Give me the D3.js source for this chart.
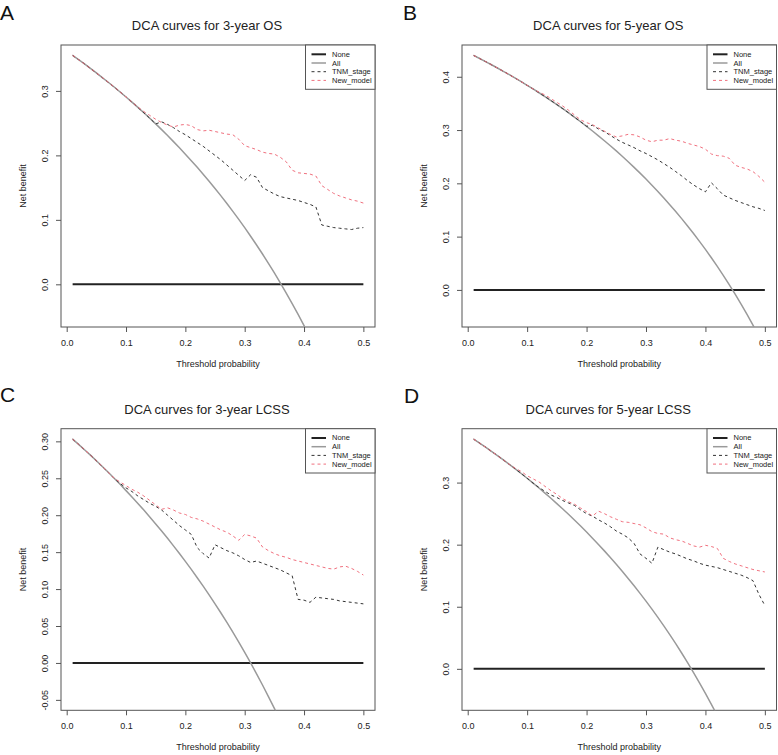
<!DOCTYPE html>
<html>
<head>
<meta charset="utf-8">
<script src="https://cdn.jsdelivr.net/npm/d3@7"></script>
<style>
  html, body { margin: 0; padding: 0; background: #fff; }
  svg { display: block; font-family: "Liberation Sans", Arial, sans-serif; }
</style>
</head>
<body>
<svg id="chart" width="778" height="755"></svg>
<script>
// ---------- DATA ----------
const thresholds = [0.01,0.02,0.03,0.04,0.05,0.06,0.07,0.08,0.09,0.10,
  0.11,0.12,0.13,0.14,0.15,0.16,0.17,0.18,0.19,0.20,
  0.21,0.22,0.23,0.24,0.25,0.26,0.27,0.28,0.29,0.30,
  0.31,0.32,0.33,0.34,0.35,0.36,0.37,0.38,0.39,0.40,
  0.41,0.42,0.43,0.44,0.45,0.46,0.47,0.48,0.49,0.50];

const seriesNames = ["None", "All", "TNM_stage", "New_model"];
const xTickValues = [0, 0.1, 0.2, 0.3, 0.4, 0.5];
const xTickLabels = ["0.0", "0.1", "0.2", "0.3", "0.4", "0.5"];

// Panel A: 3-year OS
const allA = [0.3551,0.3485,0.3418,0.3349,0.3279,0.3207,0.3134,0.3060,0.2983,0.2906,0.2826,0.2744,0.2661,0.2576,0.2488,0.2399,0.2307,0.2213,0.2117,0.2019,0.1918,0.1814,0.1708,0.1599,0.1487,0.1372,0.1253,0.1132,0.1007,0.0879,0.0746,0.0610,0.0470,0.0326,0.0177,0.0023,-0.0135,-0.0298,-0.0467,-0.0642,-0.0822,-0.1009,-0.1202,-0.1402,-0.1609,-0.1824,-0.2047,-0.2279,-0.2520,-0.2770];
const tnmA = [0.3551,0.3485,0.3418,0.3349,0.3279,0.3207,0.3134,0.3060,0.2983,0.2906,0.2826,0.2744,0.2661,0.2576,0.2488,0.252,0.248,0.243,0.237,0.232,0.226,0.220,0.214,0.207,0.200,0.193,0.185,0.177,0.169,0.161,0.170,0.166,0.150,0.145,0.140,0.136,0.134,0.132,0.130,0.127,0.124,0.120,0.092,0.090,0.088,0.087,0.086,0.085,0.087,0.088];
const newA = [0.3551,0.3485,0.3418,0.3349,0.3279,0.3207,0.3134,0.3060,0.2983,0.2906,0.2826,0.2750,0.268,0.262,0.256,0.251,0.247,0.244,0.247,0.248,0.246,0.240,0.238,0.239,0.237,0.235,0.233,0.232,0.225,0.215,0.212,0.209,0.205,0.203,0.202,0.197,0.190,0.177,0.173,0.172,0.171,0.168,0.153,0.147,0.141,0.137,0.134,0.131,0.129,0.126];
const yTicksA = [0, 0.1, 0.2, 0.3];
const yLabelsA = ["0.0", "0.1", "0.2", "0.3"];

// Panel B: 5-year OS
const allB = [0.4400,0.4343,0.4285,0.4225,0.4164,0.4102,0.4039,0.3974,0.3908,0.3840,0.3771,0.3700,0.3628,0.3554,0.3478,0.3400,0.3321,0.3239,0.3156,0.3070,0.2982,0.2892,0.2800,0.2705,0.2608,0.2508,0.2406,0.2300,0.2192,0.2080,0.1965,0.1847,0.1725,0.1600,0.1471,0.1338,0.1200,0.1058,0.0911,0.0760,0.0603,0.0441,0.0274,0.0100,-0.0080,-0.0267,-0.0460,-0.0662,-0.0871,-0.1088];
const tnmB = [0.4400,0.4343,0.4285,0.4225,0.4164,0.4102,0.4039,0.3974,0.3908,0.3840,0.3771,0.3700,0.3628,0.3554,0.3478,0.3400,0.3321,0.3239,0.3156,0.3070,0.309,0.302,0.297,0.290,0.283,0.277,0.272,0.267,0.261,0.256,0.250,0.244,0.237,0.230,0.222,0.214,0.205,0.197,0.190,0.184,0.201,0.190,0.178,0.173,0.168,0.164,0.160,0.156,0.153,0.149];
const newB = [0.4400,0.4343,0.4285,0.4225,0.4164,0.4102,0.4039,0.3974,0.3908,0.3840,0.3771,0.371,0.366,0.359,0.352,0.345,0.337,0.328,0.319,0.314,0.310,0.304,0.298,0.292,0.287,0.289,0.292,0.291,0.287,0.281,0.278,0.281,0.281,0.284,0.281,0.279,0.275,0.272,0.269,0.264,0.255,0.252,0.251,0.247,0.234,0.230,0.227,0.222,0.213,0.202];
const yTicksB = [0, 0.1, 0.2, 0.3, 0.4];
const yLabelsB = ["0.0", "0.1", "0.2", "0.3", "0.4"];

// Panel C: 3-year LCSS
const allC = [0.3030,0.2959,0.2887,0.2813,0.2737,0.2660,0.2581,0.2500,0.2418,0.2333,0.2247,0.2159,0.2069,0.1977,0.1882,0.1786,0.1687,0.1585,0.1481,0.1375,0.1266,0.1154,0.1039,0.0921,0.0800,0.0676,0.0548,0.0417,0.0282,0.0143,0.0000,-0.0147,-0.0299,-0.0455,-0.0615,-0.0781,-0.0952,-0.1129,-0.1311,-0.1500,-0.1695,-0.1897,-0.2105,-0.2321,-0.2546,-0.2778,-0.3019,-0.3269,-0.3529,-0.3800];
const tnmC = [0.3030,0.2959,0.2887,0.2813,0.2737,0.2660,0.2581,0.2500,0.243,0.237,0.232,0.226,0.221,0.216,0.212,0.207,0.200,0.193,0.186,0.180,0.174,0.156,0.148,0.142,0.160,0.156,0.152,0.149,0.145,0.140,0.136,0.138,0.135,0.132,0.129,0.126,0.122,0.118,0.086,0.085,0.082,0.089,0.088,0.087,0.086,0.084,0.083,0.082,0.081,0.080];
const newC = [0.3030,0.2959,0.2887,0.2813,0.2737,0.2660,0.2581,0.2500,0.245,0.240,0.235,0.231,0.226,0.220,0.214,0.208,0.210,0.207,0.203,0.201,0.197,0.195,0.192,0.188,0.184,0.180,0.177,0.172,0.166,0.174,0.172,0.169,0.157,0.152,0.148,0.145,0.143,0.140,0.138,0.136,0.134,0.132,0.130,0.128,0.127,0.130,0.131,0.128,0.124,0.119];
const yTicksC = [-0.05, 0, 0.05, 0.10, 0.15, 0.20, 0.25, 0.30];
const yLabelsC = ["-0.05", "0.00", "0.05", "0.10", "0.15", "0.20", "0.25", "0.30"];

// Panel D: 5-year LCSS
const allD = [0.3700,0.3636,0.3570,0.3503,0.3435,0.3365,0.3294,0.3221,0.3146,0.3070,0.2992,0.2913,0.2831,0.2748,0.2662,0.2575,0.2486,0.2394,0.2300,0.2204,0.2105,0.2004,0.1900,0.1793,0.1684,0.1572,0.1456,0.1338,0.1216,0.1090,0.0961,0.0828,0.0691,0.0550,0.0405,0.0255,0.0100,-0.0060,-0.0225,-0.0395,-0.0571,-0.0753,-0.0942,-0.1138,-0.1340,-0.1550,-0.1768,-0.1994,-0.2230,-0.2474];
const tnmD = [0.3700,0.3636,0.3570,0.3503,0.3435,0.3365,0.3294,0.3221,0.3146,0.3070,0.2992,0.292,0.286,0.280,0.276,0.271,0.267,0.263,0.256,0.250,0.246,0.240,0.235,0.229,0.222,0.217,0.211,0.202,0.185,0.178,0.170,0.196,0.192,0.188,0.185,0.181,0.177,0.174,0.170,0.167,0.165,0.163,0.160,0.157,0.154,0.151,0.147,0.142,0.120,0.102];
const newD = [0.3700,0.3636,0.3570,0.3503,0.3435,0.3365,0.3294,0.323,0.318,0.311,0.306,0.301,0.294,0.287,0.281,0.274,0.269,0.265,0.259,0.253,0.246,0.254,0.250,0.245,0.241,0.237,0.236,0.234,0.232,0.227,0.221,0.218,0.217,0.211,0.208,0.206,0.202,0.198,0.196,0.199,0.197,0.194,0.178,0.173,0.169,0.166,0.163,0.160,0.158,0.156];
const yTicksD = [0, 0.1, 0.2, 0.3];
const yLabelsD = ["0.0", "0.1", "0.2", "0.3"];

const titles = ["DCA curves for 3-year OS", "DCA curves for 5-year OS",
                "DCA curves for 3-year LCSS", "DCA curves for 5-year LCSS"];
const letters = ["A", "B", "C", "D"];
const yLimits = [[-0.05, 0.355], [-0.05, 0.44], [-0.05, 0.303], [-0.05, 0.37]];
const xLimits = [0.01, 0.5];

// ---------- LAYOUT ----------
const panels = [
  { box: [61, 45, 375, 327],       all: allA, tnm: tnmA, nw: newA, yt: yTicksA, yl: yLabelsA, letterXY: [0, 20] },
  { box: [462, 45, 776.5, 327],    all: allB, tnm: tnmB, nw: newB, yt: yTicksB, yl: yLabelsB, letterXY: [403, 20] },
  { box: [61, 428.7, 375, 710.3],  all: allC, tnm: tnmC, nw: newC, yt: yTicksC, yl: yLabelsC, letterXY: [0, 402] },
  { box: [462, 428.7, 776.5, 710.3], all: allD, tnm: tnmD, nw: newD, yt: yTicksD, yl: yLabelsD, letterXY: [404, 403] }
];

const styles = {
  None:      { color: "#222", width: 2,   dash: null },
  All:       { color: "#9a9a9a", width: 1.5, dash: null },
  TNM_stage: { color: "#333", width: 1,   dash: "3,3" },
  New_model: { color: "#f0707e", width: 1, dash: "3,3" }
};

const svg = d3.select("#chart");
const textColor = "#222";
const axisColor = "#555";

panels.forEach((p, i) => {
  const [L, T, R, B] = p.box;
  const ext = (xLimits[1] - xLimits[0]) * 0.04;
  const x = d3.scaleLinear().domain([xLimits[0] - ext, xLimits[1] + ext]).range([L, R]);
  const [y0, y1] = yLimits[i];
  const eyt = (y1 - y0) * 0.04;
  const y = d3.scaleLinear().domain([y0 - eyt, y1 + eyt]).range([B, T]);

  const g = svg.append("g");

  // clip
  const clipId = "clip" + i;
  svg.append("clipPath").attr("id", clipId)
    .append("rect").attr("x", L).attr("y", T).attr("width", R - L).attr("height", B - T);

  // axes
  const xAxis = d3.axisBottom(x).tickValues(xTickValues)
    .tickFormat((d, k) => xTickLabels[k]).tickSize(5).tickSizeOuter(0);
  const gx = g.append("g").attr("transform", `translate(0,${B})`).call(xAxis);
  gx.select(".domain").remove();
  gx.selectAll(".tick line").attr("stroke", axisColor);
  gx.selectAll(".tick text").attr("y", 16).attr("dy", null)
    .attr("dominant-baseline", "central")
    .attr("font-size", 9).attr("fill", textColor)
    .attr("font-family", "Liberation Sans, Arial, sans-serif");

  const yAxis = d3.axisLeft(y).tickValues(p.yt)
    .tickFormat((d, k) => p.yl[k]).tickSize(5).tickSizeOuter(0);
  const gy = g.append("g").attr("transform", `translate(${L},0)`).call(yAxis);
  gy.select(".domain").remove();
  gy.selectAll(".tick line").attr("stroke", axisColor);
  gy.selectAll(".tick text")
    .attr("transform", "rotate(-90)")
    .attr("x", 0).attr("y", -16).attr("dy", null)
    .attr("text-anchor", "middle")
    .attr("dominant-baseline", "central")
    .attr("font-size", 9).attr("fill", textColor)
    .attr("font-family", "Liberation Sans, Arial, sans-serif");

  // box
  g.append("rect").attr("x", L).attr("y", T).attr("width", R - L).attr("height", B - T)
    .attr("fill", "none").attr("stroke", axisColor).attr("stroke-width", 1);

  // lines
  const lineGen = vals => d3.line()
    .x((d, k) => x(thresholds[k]))
    .y(d => y(d))(vals);

  const lines = g.append("g").attr("clip-path", `url(#${clipId})`);
  // None
  lines.append("path")
    .attr("d", d3.line()([[x(xLimits[0]), y(0)], [x(xLimits[1]), y(0)]]))
    .attr("fill", "none").attr("stroke", styles.None.color).attr("stroke-width", styles.None.width);
  // All
  lines.append("path").attr("d", lineGen(p.all))
    .attr("fill", "none").attr("stroke", styles.All.color).attr("stroke-width", styles.All.width);
  // TNM
  lines.append("path").attr("d", lineGen(p.tnm))
    .attr("fill", "none").attr("stroke", styles.TNM_stage.color)
    .attr("stroke-width", styles.TNM_stage.width).attr("stroke-dasharray", styles.TNM_stage.dash);
  // New
  lines.append("path").attr("d", lineGen(p.nw))
    .attr("fill", "none").attr("stroke", styles.New_model.color)
    .attr("stroke-width", styles.New_model.width).attr("stroke-dasharray", styles.New_model.dash);

  // legend
  const lw = 69.5, lh = 44.3;
  const lg = g.append("g").attr("transform", `translate(${R - lw},${T})`);
  lg.append("rect").attr("x", 0).attr("y", 0).attr("width", lw).attr("height", lh)
    .attr("fill", "#fff").attr("stroke", axisColor).attr("stroke-width", 1);
  const rowY = [9.3, 18.0, 26.7, 35.4];
  seriesNames.forEach((name, k) => {
    const s = styles[name];
    lg.append("line").attr("x1", 6).attr("x2", 20.5).attr("y1", rowY[k]).attr("y2", rowY[k])
      .attr("stroke", s.color).attr("stroke-width", s.width)
      .attr("stroke-dasharray", s.dash);
    lg.append("text").attr("x", 26.5).attr("y", rowY[k])
      .attr("dominant-baseline", "central")
      .attr("font-size", 7.5).attr("fill", textColor).text(name);
  });

  // title
  g.append("text").attr("x", (L + R) / 2 - 11).attr("y", T - 15)
    .attr("text-anchor", "middle").attr("font-size", 13).attr("fill", textColor)
    .text(titles[i]);

  // axis titles
  g.append("text").attr("x", (L + R) / 2).attr("y", B + 40)
    .attr("text-anchor", "middle").attr("font-size", 9).attr("fill", textColor)
    .text("Threshold probability");
  g.append("text")
    .attr("transform", `translate(${L - 38.3},${(T + B) / 2}) rotate(-90)`)
    .attr("text-anchor", "middle").attr("dominant-baseline", "central")
    .attr("font-size", 9).attr("fill", textColor)
    .text("Net benefit");

  // panel letter
  g.append("text").attr("x", p.letterXY[0]).attr("y", p.letterXY[1])
    .attr("font-size", 21).attr("fill", "#111").text(letters[i]);
});
</script>
</body>
</html>
